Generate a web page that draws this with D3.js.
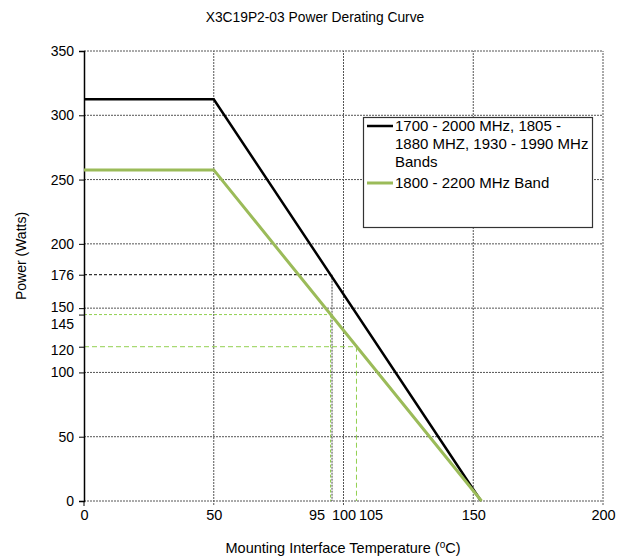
<!DOCTYPE html>
<html><head><meta charset="utf-8">
<script src="https://cdn.jsdelivr.net/npm/d3@7"></script>
<style>body{margin:0;background:#fff;} text{font-family:"Liberation Sans",Arial,sans-serif;fill:#000;}</style>
</head><body>
<svg id="c" width="625" height="557"></svg>
<script>
const title = "X3C19P2-03 Power Derating Curve";
const seriesNames = ["1700 - 2000 MHz, 1805 - 1880 MHZ, 1930 - 1990 MHz Bands", "1800 - 2200 MHz Band"];
const blackTemps = [0, 50, 153];
const blackPower = [312.5, 312.5, 0];
const greenTemps = [0, 50, 153.2];
const greenPower = [257.5, 257.5, 0];
const xTicks = [0, 50, 95, 100, 105, 150, 200];
const yTicks = [0, 50, 100, 120, 145, 150, 176, 200, 250, 300, 350];
const xGrid = [50, 100, 150, 200];
const yGrid = [50, 100, 150, 200, 250, 300, 350];
// reference lines: [temp, power]
const blackRef = [[95, 176]];
const greenRef = [[95, 145], [105, 120]];

const svg = d3.select("#c");
const x = d3.scaleLinear().domain([0, 200]).range([84, 603]);
const y = d3.scaleLinear().domain([0, 350]).range([501, 51]);

svg.append("text").attr("x", 315).attr("y", 22).attr("text-anchor", "middle").attr("font-size", 13.8).text(title);

// grid
const g = svg.append("g");
xGrid.forEach(v => g.append("line").attr("x1", x(v)).attr("x2", x(v)).attr("y1", y(0)+4).attr("y2", y(350))
  .attr("stroke", "#555").attr("stroke-width", 1).attr("stroke-dasharray", "2,1"));
yGrid.concat([0]).forEach(v => g.append("line").attr("x1", x(0)).attr("x2", x(200)).attr("y1", y(v)).attr("y2", y(v))
  .attr("stroke", "#555").attr("stroke-width", 1).attr("stroke-dasharray", "2,1"));

// reference lines
blackRef.forEach(([t, p]) => {
  g.append("line").attr("x1", x(0)).attr("x2", x(t)).attr("y1", y(p)).attr("y2", y(p)).attr("stroke", "#000").attr("stroke-dasharray", "3,2");
  g.append("line").attr("x1", x(t)+1.5).attr("x2", x(t)+1.5).attr("y1", y(p)).attr("y2", y(0)).attr("stroke", "#444").attr("stroke-dasharray", "2,1");
});
greenRef.forEach(([t, p], i) => {
  const da = i === 0 ? "3,2" : "5,3";
  g.append("line").attr("x1", x(0)).attr("x2", x(t)).attr("y1", y(p)).attr("y2", y(p)).attr("stroke", "#92d050").attr("stroke-dasharray", da);
  g.append("line").attr("x1", x(t)).attr("x2", x(t)).attr("y1", y(p)).attr("y2", y(0)).attr("stroke", "#92d050").attr("stroke-dasharray", da);
});

// label nudges so close ticks don't collide (as in the reference)
const yNudge = {150: -1, 145: 9, 120: 3};
const xNudge = {95: -14, 105: 14};

// left axis
svg.append("g").attr("transform", `translate(${x(0)},0)`)
  .call(d3.axisLeft(y).tickValues(yTicks).tickSize(5).tickPadding(5).tickFormat(d3.format("d")))
  .call(a => {
    a.select(".domain").attr("stroke", "#000").attr("stroke-width", 1.5);
    a.selectAll(".tick line").attr("stroke", "#000");
    a.selectAll("text").attr("font-size", 14).attr("font-family", "Liberation Sans, Arial, sans-serif")
      .attr("transform", d => `translate(0,${yNudge[d] || 0})`).attr("dy", "0.32em");
  });
// bottom axis labels
svg.append("g").attr("transform", `translate(0,${y(0)})`)
  .call(d3.axisBottom(x).tickValues(xTicks).tickSize(0).tickPadding(9).tickFormat(d3.format("d")))
  .call(a => {
    a.select(".domain").remove();
    a.selectAll("text").attr("font-size", 14.5).attr("font-family", "Liberation Sans, Arial, sans-serif")
      .attr("transform", d => `translate(${xNudge[d] || 0},0)`);
  });
svg.append("line").attr("x1", x(0)).attr("x2", x(0)).attr("y1", y(0)).attr("y2", y(0)+5).attr("stroke", "#000");

// series
const line = d3.line().x(d => x(d[0])).y(d => y(d[1]));
svg.append("path").datum(blackTemps.map((t, i) => [t, blackPower[i]])).attr("d", line)
  .attr("fill", "none").attr("stroke", "#000").attr("stroke-width", 2.5);
svg.append("path").datum(greenTemps.map((t, i) => [t, greenPower[i]])).attr("d", line)
  .attr("fill", "none").attr("stroke", "#9bbb59").attr("stroke-width", 3);

// legend
const lg = svg.append("g");
lg.append("rect").attr("x", 363.5).attr("y", 117.5).attr("width", 229).attr("height", 110).attr("fill", "#fff").attr("stroke", "#333").attr("stroke-width", 1.2);
lg.append("line").attr("x1", 367).attr("x2", 393).attr("y1", 126).attr("y2", 126).attr("stroke", "#000").attr("stroke-width", 2.5);
lg.append("line").attr("x1", 367).attr("x2", 393).attr("y1", 183).attr("y2", 183).attr("stroke", "#9bbb59").attr("stroke-width", 3);
const l1 = ["1700 - 2000 MHz, 1805 -", "1880 MHZ, 1930 - 1990 MHz", "Bands"];
l1.forEach((s, i) => lg.append("text").attr("x", 395).attr("y", 131 + i * 18).attr("font-size", 15).text(s));
lg.append("text").attr("x", 395).attr("y", 188).attr("font-size", 15).text(seriesNames[1]);

// axis titles
svg.append("text").attr("transform", "translate(26,256) rotate(-90)").attr("text-anchor", "middle").attr("font-size", 14).text("Power (Watts)");
const xt = svg.append("text").attr("x", 343).attr("y", 553).attr("text-anchor", "middle").attr("font-size", 14.5);
xt.append("tspan").text("Mounting Interface Temperature (");
xt.append("tspan").attr("font-size", 10).attr("dy", -5).text("o");
xt.append("tspan").attr("dy", 5).text("C)");
</script>
</body></html>
